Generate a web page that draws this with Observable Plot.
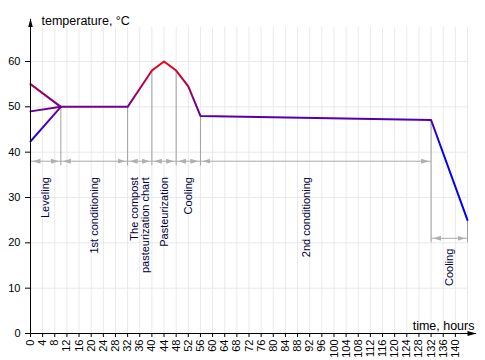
<!DOCTYPE html>
<html>
<head>
<meta charset="utf-8">
<script src="https://cdn.jsdelivr.net/npm/d3@7"></script>
<script src="https://cdn.jsdelivr.net/npm/@observablehq/plot@0.6"></script>
<style>
  html, body { margin: 0; padding: 0; background: #fff; }
  #chart { width: 485px; height: 360px; }
</style>
</head>
<body>
<div id="chart"></div>
<script>
// ---- data ----
const startHours = [0, 10];
const startTempsA = [55, 50];
const startTempsB = [49, 50];
const startTempsC = [42.4, 50];

const mainHours = [10, 32, 36, 40, 44, 48, 52, 56, 132, 144];
const mainTemps = [50, 50, 54, 58, 60, 58, 54.5, 48, 47.1, 25];

const boundaryHours  = [10, 32, 40, 48, 56, 132, 144];
const boundaryTop    = [50, 50, 58, 58, 48, 47.1, 25];
const boundaryBottom = [37, 37, 37, 37, 37, 20, 20];

const phaseLabels = ["Leveling", "1st conditioning", "The compost\npasteurization chart", "Pasteurization", "Cooling", "2nd conditioning", "Cooling"];
const phaseStart  = [0, 10, 32, 40, 48, 56, 132];
const phaseEnd    = [10, 32, 40, 48, 56, 132, 144];
const phaseArrowY = [38, 38, 38, 38, 38, 38, 21];
const phaseLabelX = [5, 21, 36, 44, 52, 91, 138];
const phaseLabelTop = [34.5, 34.5, 34.5, 34.5, 34.5, 34.5, 18.7];

const xTickLabels = [0,4,8,12,16,20,24,28,32,36,40,44,48,52,56,60,64,68,72,76,80,84,88,92,96,100,104,108,112,116,120,124,128,132,136,140];
const xGridHours  = [4,8,12,16,20,24,28,32,36,40,44,48,52,56,60,64,68,72,76,80,84,88,92,96,100,104,108,112,116,120,124,128,132,136,140,144];
const yTickLabels = [0, 10, 20, 30, 40, 50, 60];
const yGridTemps  = [10, 20, 30, 40, 50, 60];
const xAxisEnd = 146.8;
const yAxisTop = 69.4;
const gradHot = 61, gradCold = 41;

// ---- tables ----
const toPts = (xs, ys) => xs.map((x, i) => ({hour: x, temp: ys[i]}));
const lineA = toPts(startHours, startTempsA);
const lineB = toPts(startHours, startTempsB);
const lineC = toPts(startHours, startTempsC);
const mainLine = toPts(mainHours, mainTemps);
const boundaries = boundaryHours.map((h, i) => ({hour: h, top: boundaryTop[i], bottom: boundaryBottom[i]}));
const phases = phaseLabels.map((t, i) => ({label: t, x1: phaseStart[i], x2: phaseEnd[i], y: phaseArrowY[i], lx: phaseLabelX[i], ly: phaseLabelTop[i]}));

const lineOpts = {x: "hour", y: "temp", stroke: "url(#tempGrad)", strokeWidth: 2, curve: "linear"};

const chart = Plot.plot({
  width: 485,
  height: 360,
  marginLeft: 30,
  marginRight: 18,
  marginTop: 27,
  marginBottom: 27,
  style: {fontFamily: '"Liberation Sans", Arial, sans-serif', fontSize: "11px", background: "white", color: "black", overflow: "visible"},
  x: {domain: [0, 144], ticks: xTickLabels, tickRotate: -90, tickSize: 4, tickPadding: 2, label: null},
  y: {domain: [0, 67.5], ticks: yTickLabels, tickSize: 5, tickPadding: 5, label: null},
  marks: [
    Plot.ruleX(xGridHours, {stroke: "#e9e9e9", strokeWidth: 1}),
    Plot.ruleY(yGridTemps, {stroke: "#e9e9e9", strokeWidth: 1}),
    Plot.ruleX(boundaries, {x: "hour", y1: "top", y2: "bottom", stroke: "#a0a0a0", strokeWidth: 1}),
    Plot.link(phases, {x1: "x1", x2: "x2", y1: "y", y2: "y", stroke: "#aaaaaa", strokeWidth: 1, markerStart: "arrow", markerEnd: "arrow"}),
    Plot.line(lineA, lineOpts),
    Plot.line(lineB, lineOpts),
    Plot.line(lineC, lineOpts),
    Plot.line(mainLine, lineOpts),
    Plot.text(phases, {x: "lx", y: "ly", text: "label", rotate: -90, textAnchor: "end", lineAnchor: "middle", lineHeight: 1.0, fill: "#000040", fontSize: 11}),
    Plot.link([0], {x1: 0, x2: xAxisEnd, y1: 0, y2: 0, stroke: "black", strokeWidth: 1, markerEnd: "arrow"}),
    Plot.link([0], {x1: 0, x2: 0, y1: 0, y2: yAxisTop, stroke: "black", strokeWidth: 1, markerEnd: "arrow"}),
    Plot.text(["temperature, °C"], {frameAnchor: "top-left", dx: 11, dy: -3, textAnchor: "start", lineAnchor: "bottom", fontSize: 12.5, fill: "black"}),
    Plot.text(["time, hours"], {frameAnchor: "bottom-right", dx: 7, dy: -4, textAnchor: "end", lineAnchor: "bottom", fontSize: 12.5, fill: "black"})
  ]
});

// defs: gradient by temperature; restyle Plot's arrow markers as filled heads
const ys = chart.scale("y");
const yPix = v => ys.range[0] + (v - ys.domain[0]) / (ys.domain[1] - ys.domain[0]) * (ys.range[1] - ys.range[0]);
const svgNode = chart.tagName.toLowerCase() === "svg" ? chart : chart.querySelector("svg");
const svg = d3.select(svgNode);
const defs = svg.insert("defs", ":first-child");
const grad = defs.append("linearGradient").attr("id", "tempGrad").attr("gradientUnits", "userSpaceOnUse")
  .attr("x1", 0).attr("x2", 0).attr("y1", yPix(gradHot)).attr("y2", yPix(gradCold));
grad.append("stop").attr("offset", 0).attr("stop-color", "#ff0000");
grad.append("stop").attr("offset", 1).attr("stop-color", "#0000ff");

svg.selectAll("marker").each(function() {
  const m = d3.select(this);
  const col = (m.attr("stroke") || "").toLowerCase();
  const isAxis = col === "black" || col === "#000000" || col === "currentcolor";
  m.attr("viewBox", "0 0 10 6").attr("markerUnits", "userSpaceOnUse")
   .attr("markerWidth", 10).attr("markerHeight", 6)
   .attr("refX", isAxis ? 8.5 : 10).attr("refY", 3)
   .attr("orient", "auto-start-reverse")
   .attr("fill", isAxis ? "black" : "#b0b0b0").attr("stroke", "none");
  m.selectAll("*").remove();
  m.append("path").attr("d", isAxis ? "M0,0.6L9,3L0,5.4Z" : "M0,0.5L8,3L0,5.5Z");
});

document.getElementById("chart").appendChild(chart);
</script>
</body>
</html>
